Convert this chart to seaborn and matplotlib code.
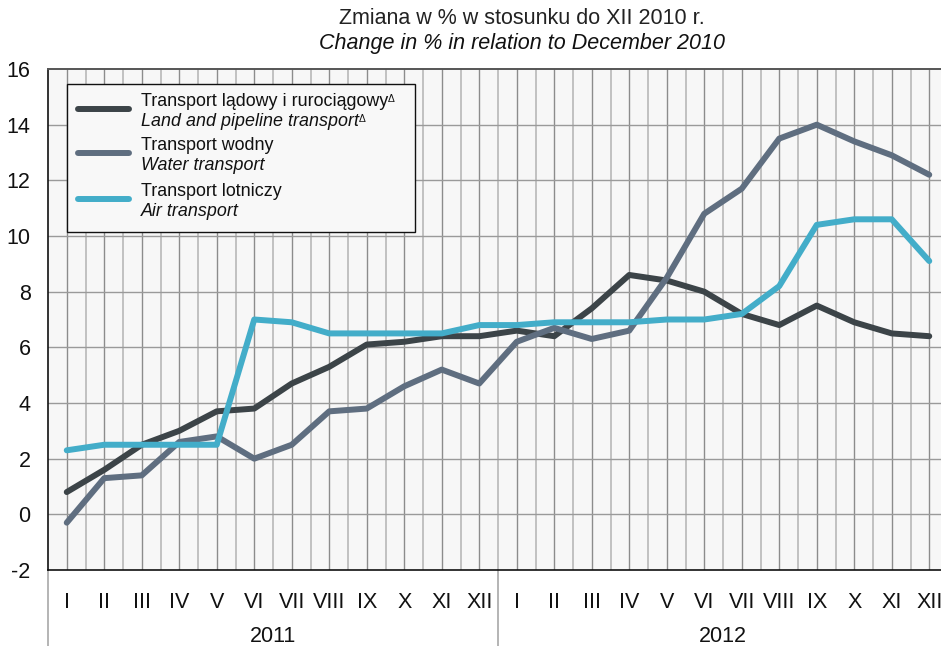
import matplotlib
matplotlib.use("Agg")
import matplotlib.pyplot as plt
import matplotlib.transforms as mtransforms
from matplotlib.patches import Rectangle
from matplotlib.lines import Line2D
import numpy as np
import pandas as pd
import seaborn as sns

months = ["I", "II", "III", "IV", "V", "VI", "VII", "VIII", "IX", "X", "XI", "XII"]
years = ["2011", "2012"]

land = [0.8, 1.6, 2.5, 3.0, 3.7, 3.8, 4.7, 5.3, 6.1, 6.2, 6.4, 6.4,
        6.6, 6.4, 7.4, 8.6, 8.4, 8.0, 7.2, 6.8, 7.5, 6.9, 6.5, 6.4]
water = [-0.3, 1.3, 1.4, 2.6, 2.8, 2.0, 2.5, 3.7, 3.8, 4.6, 5.2, 4.7,
         6.2, 6.7, 6.3, 6.6, 8.5, 10.8, 11.7, 13.5, 14.0, 13.4, 12.9, 12.2]
air = [2.3, 2.5, 2.5, 2.5, 2.5, 7.0, 6.9, 6.5, 6.5, 6.5, 6.5, 6.8,
       6.8, 6.9, 6.9, 6.9, 7.0, 7.0, 7.2, 8.2, 10.4, 10.6, 10.6, 9.1]

series_names = ["land", "water", "air"]
labels_pl = ["Transport lądowy i rurociągowy", "Transport wodny", "Transport lotniczy"]
labels_en = ["Land and pipeline transport", "Water transport", "Air transport"]
footnote_mark = [True, False, False]
colors = ["#3c4448", "#5f6e80", "#43adc9"]

title_pl = "Zmiana w % w stosunku do XII 2010 r."
title_en = "Change in % in relation to December 2010"

sns.set_theme(style="white")
plt.rcParams["font.family"] = ["Liberation Sans", "DejaVu Sans"]

W, H = 941, 646
FS = 15.5
LEG_FS = 12.9

n = len(land)
x = np.arange(n)
df = pd.DataFrame({
    "x": np.tile(x, 3),
    "value": land + water + air,
    "series": np.repeat(series_names, n),
})

fig = plt.figure(figsize=(W / 100, H / 100), dpi=100)
ax = fig.add_axes([48 / W, 76 / H, 900 / W, 501 / H])
ax.set_facecolor("#f7f7f7")

sns.lineplot(data=df, x="x", y="value", hue="series", hue_order=series_names,
             palette=colors, linewidth=4.3, ax=ax, legend=False,
             solid_capstyle="round", solid_joinstyle="round", zorder=3)

ax.set_xlim(-0.5, 23.5)
ax.set_ylim(-2, 16)
ax.set_yticks(np.arange(-2, 17, 2))
ax.set_yticklabels([str(v) for v in range(-2, 17, 2)])
ax.set_xticks(x)
ax.set_xticklabels(months * 2)
ax.set_xlabel("")
ax.set_ylabel("")

# grid: month lines, half-month lines and horizontal level lines
ax.grid(False)
for xv in x:
    ax.axvline(xv, color="#8c8c8c", lw=1.0, zorder=1)
for xv in np.arange(0.5, 23.5, 1):
    ax.axvline(xv, color="#b3b3b3", lw=1.1, zorder=1)
for yv in range(0, 16, 2):
    ax.axhline(yv, color="#9a9a9a", lw=1.0, zorder=1)

ax.tick_params(axis="both", which="both", length=0, labelsize=FS, colors="#111111")
ax.tick_params(axis="y", pad=12.5)
ax.tick_params(axis="x", pad=16)

for side in ["left", "bottom"]:
    ax.spines[side].set_color("#111111")
    ax.spines[side].set_linewidth(1.2)
ax.spines["top"].set_color("#555555")
ax.spines["top"].set_linewidth(1.4)
ax.spines["right"].set_visible(False)

# year separators and year labels below the axis
trans = mtransforms.blended_transform_factory(ax.transData, ax.transAxes)
for xv in [-0.5, 11.5]:
    ax.plot([xv, xv], [0, -0.16], transform=trans, color="#a8a8a8",
            lw=1.2, clip_on=False)
for i, yr in enumerate(years):
    ax.text(i * 12 + 5.5, -0.133, yr, transform=trans, ha="center", va="center",
            fontsize=FS, color="#111111")


def fx(px):
    return px / W


def fy(py):
    return 1 - py / H


# legend box drawn in figure pixels
fig.add_artist(Rectangle((fx(67), fy(232)), fx(415) - fx(67), fy(84) - fy(232),
                         transform=fig.transFigure, facecolor="#f8f8f8",
                         edgecolor="#111111", lw=1.0, zorder=5))
handle_y = [108.5, 152.5, 199]
for hy, c, pl, en, mark in zip(handle_y, colors, labels_pl, labels_en, footnote_mark):
    fig.add_artist(Line2D([fx(78), fx(129)], [fy(hy), fy(hy)],
                          transform=fig.transFigure, color=c, lw=4.3,
                          solid_capstyle="round", zorder=6))
    t1 = fig.text(fx(141), fy(hy - 7.5), pl, ha="left", va="center",
                  fontsize=LEG_FS, color="#111111", zorder=6)
    t2 = fig.text(fx(141), fy(hy + 12.5), en, ha="left", va="center",
                  fontsize=LEG_FS, style="italic", color="#111111", zorder=6)
    if mark:
        fig.canvas.draw()
        r = fig.canvas.get_renderer()
        for t in (t1, t2):
            bb = t.get_window_extent(r)
            fig.text(bb.x1 / W, (bb.y1 - 1) / H, "Δ", ha="left", va="top",
                     fontsize=7.5, color="#111111", zorder=6)

fig.text(522 / W, fy(18), title_pl, ha="center", va="center",
         fontsize=FS, color="#222222")
fig.text(522 / W, fy(44), title_en, ha="center", va="center",
         fontsize=FS, style="italic", color="#111111")

fig.savefig("out.png", dpi=100)
